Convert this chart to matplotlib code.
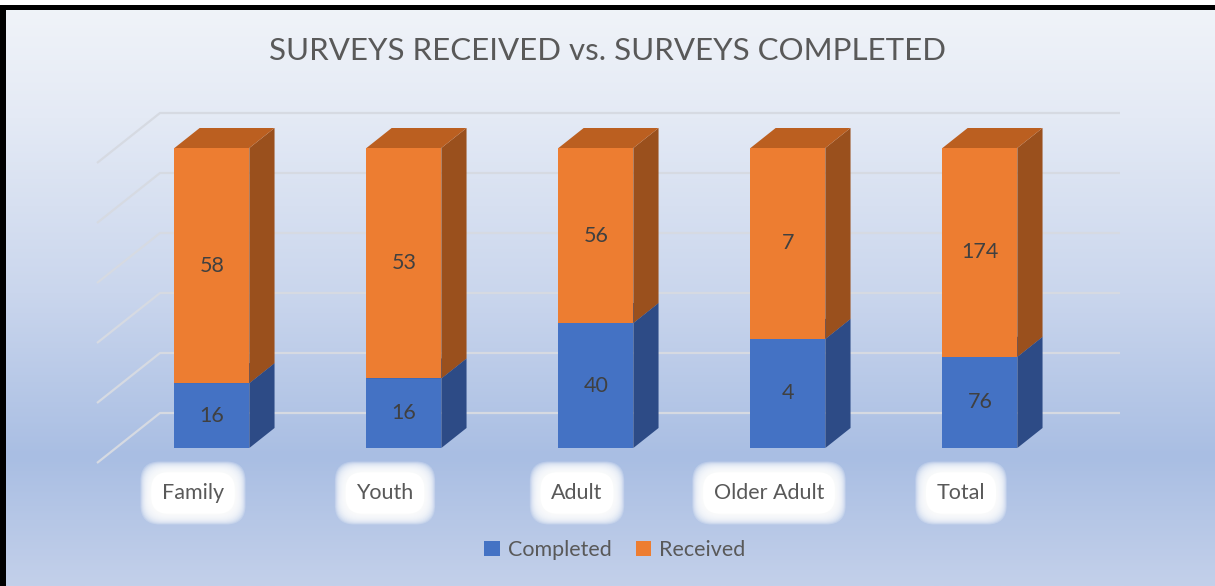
import numpy as np
import matplotlib.pyplot as plt
from matplotlib.patches import Polygon, Rectangle
from matplotlib.colors import LinearSegmentedColormap

# ---- data ----
categories = ['Family', 'Youth', 'Adult', 'Older Adult', 'Total']
completed = [16, 16, 40, 4, 76]
received = [58, 53, 56, 7, 174]
series_names = ['Completed', 'Received']
grid_pct = [0, 20, 40, 60, 80, 100]

plt.rcParams['font.family'] = ['Lato', 'DejaVu Sans']

W, H = 1215, 586
fig = plt.figure(figsize=(W/100, H/100), dpi=100)

# background gradient
bg = fig.add_axes([0, 0, 1, 1])
bg.axis('off')
stops = [(0.0, '#f1f4f9'), (0.2, '#e4eaf5'), (0.5, '#cad6ed'),
         (0.78, '#a9bee3'), (1.0, '#c3d0ea')]
cmap = LinearSegmentedColormap.from_list('bg', stops)
grad = np.linspace(0, 1, 256).reshape(-1, 1)
bg.imshow(grad, aspect='auto', cmap=cmap, extent=[0, 1, 0, 1], origin='upper')
bg.set_xlim(0, 1)
bg.set_ylim(0, 1)

# main axes, laid out so category spacing / percent scale fit the picture
ax = fig.add_axes([0, 0, 1, 1])
ax.axis('off')
ax.patch.set_alpha(0)
x0_px, step_px, z0_px, pz = 193, 192, 463, 3.0
ax.set_xlim(-x0_px/step_px, (W - x0_px)/step_px)
ax.set_ylim((z0_px - H)/pz, z0_px/pz)

# oblique "3d" projection
DX, DZ = 63/step_px, 50/pz
def P(x, z, d):
	return (x + d*DX, z + d*DZ)

n = len(categories)
gridc = '#d6dae2'
for g in grid_pct:
	xs, ys = zip(P(-0.5, g, 0), P(-0.5, g, 1), P(n - 0.5, g, 1))
	ax.plot(xs, ys, color=gridc, lw=1.6, solid_capstyle='butt', zorder=1)

w = 0.195
d0, d1 = 0.3, 0.7
faces = {'Completed': ('#4472c4', '#2d4b86', '#3a5fa6'),
		 'Received': ('#ed7d31', '#9a501d', '#bb5f20')}

for i in range(n):
	tot = completed[i] + received[i]
	pc = completed[i]/tot*100
	segs = [('Completed', 0, pc, completed[i]), ('Received', pc, 100, received[i])]
	for name, lo, hi, val in segs:
		front, side, top = faces[name]
		ax.add_patch(Polygon([P(i-w, lo, d0), P(i+w, lo, d0), P(i+w, hi, d0), P(i-w, hi, d0)],
							 closed=True, fc=front, ec='none', zorder=3))
		ax.add_patch(Polygon([P(i+w, lo, d0), P(i+w, lo, d1), P(i+w, hi, d1), P(i+w, hi, d0)],
							 closed=True, fc=side, ec='none', zorder=3))
		ax.add_patch(Polygon([P(i-w, hi, d0), P(i+w, hi, d0), P(i+w, hi, d1), P(i-w, hi, d1)],
							 closed=True, fc=top, ec='none', zorder=3))
		tx, ty = P(i, (lo + hi)/2, d0)
		ax.text(tx, ty, str(val), ha='center', va='center', fontsize=15.5,
				color='#404040', zorder=5)

# category labels with soft white glow boxes
pads = np.linspace(1.0, 0.55, 14)
for i, cat in enumerate(categories):
	lx, ly = P(i, -10, 0)
	for pad in pads:
		ax.text(lx, ly, cat, ha='center', va='center', fontsize=15.5, color='none',
				bbox=dict(boxstyle='round,pad=%.3f,rounding_size=0.9' % pad,
						  fc='white', ec='none', alpha=0.2), zorder=4)
	ax.text(lx, ly, cat, ha='center', va='center', fontsize=15.5, color='none',
			bbox=dict(boxstyle='round,pad=0.5,rounding_size=0.8',
					  fc='white', ec='none'), zorder=4)
	ax.text(lx, ly, cat, ha='center', va='center', fontsize=15.5,
			color='#595959', zorder=5)

fig.text(0.5, 1 - 51/H, 'SURVEYS RECEIVED vs. SURVEYS COMPLETED', ha='center',
		 va='center', fontsize=22.5, color='#595959')

handles = [Rectangle((0, 0), 1, 1, fc=faces[s][0], ec='none') for s in series_names]
fig.legend(handles, series_names, loc='center', bbox_to_anchor=(615/W, 1 - 550/H),
		   ncol=2, frameon=False, fontsize=15.5, labelcolor='#595959',
		   handlelength=0.7, handleheight=0.7, handletextpad=0.4, columnspacing=1.1)

# frame edges (top and left) as in the screenshot
fig.add_artist(Rectangle((0, 1 - 5/H), 1, 5/H, transform=fig.transFigure, fc='white', ec='none'))
fig.add_artist(Rectangle((0, 1 - 10/H), 1, 5/H, transform=fig.transFigure, fc='black', ec='none'))
fig.add_artist(Rectangle((0, 0), 6/W, 1 - 5/H, transform=fig.transFigure, fc='black', ec='none'))

fig.savefig('out.png', dpi=100)
